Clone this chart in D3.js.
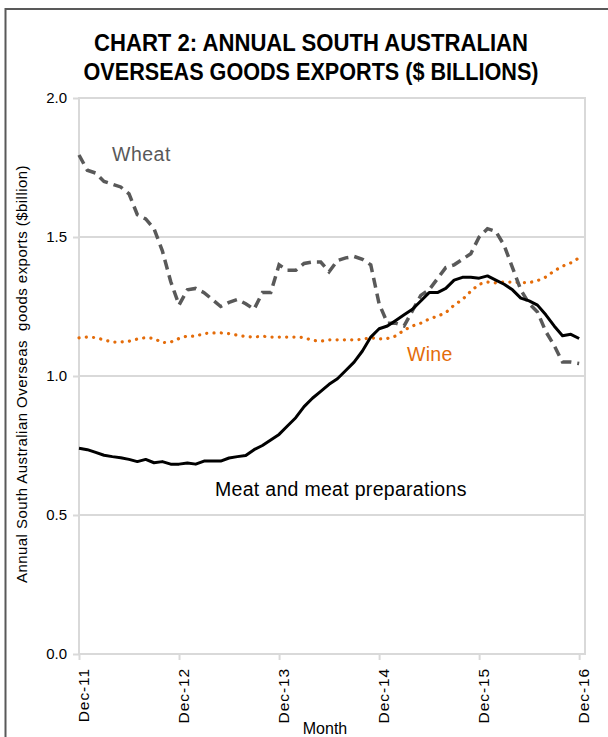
<!DOCTYPE html>
<html><head><meta charset="utf-8">
<script src="https://cdn.jsdelivr.net/npm/d3@7"></script>
<style>
body{margin:0;background:#fff}
svg{display:block}
text{font-family:"Liberation Sans",Arial,sans-serif}
</style>
</head><body>
<svg id="c" width="608" height="737"></svg>
<script>
// Monthly values Dec-11 .. Dec-16 ($ billion)
const wheat=[1.795,1.74,1.73,1.70,1.69,1.68,1.655,1.58,1.565,1.53,1.45,1.34,1.255,1.31,1.315,1.30,1.275,1.25,1.265,1.275,1.26,1.24,1.30,1.30,1.40,1.38,1.38,1.405,1.41,1.41,1.375,1.415,1.425,1.43,1.42,1.40,1.26,1.19,1.19,1.18,1.235,1.29,1.31,1.35,1.39,1.40,1.42,1.44,1.50,1.53,1.52,1.47,1.39,1.31,1.26,1.23,1.16,1.11,1.05,1.05,1.045];
const wine=[1.137,1.14,1.138,1.13,1.122,1.122,1.125,1.133,1.138,1.135,1.12,1.122,1.135,1.144,1.143,1.153,1.155,1.155,1.152,1.147,1.142,1.14,1.143,1.14,1.14,1.14,1.14,1.138,1.128,1.125,1.13,1.13,1.13,1.13,1.132,1.138,1.133,1.135,1.144,1.165,1.18,1.19,1.205,1.215,1.228,1.255,1.275,1.305,1.33,1.338,1.335,1.338,1.338,1.336,1.336,1.343,1.356,1.378,1.395,1.407,1.425];
const meat=[0.74,0.735,0.725,0.715,0.71,0.706,0.70,0.692,0.70,0.688,0.692,0.683,0.683,0.687,0.683,0.694,0.694,0.694,0.705,0.71,0.714,0.735,0.75,0.77,0.79,0.82,0.85,0.89,0.92,0.945,0.97,0.99,1.02,1.05,1.09,1.14,1.17,1.18,1.20,1.22,1.24,1.27,1.30,1.30,1.315,1.345,1.355,1.355,1.352,1.36,1.345,1.33,1.31,1.28,1.27,1.255,1.22,1.18,1.145,1.15,1.135];
const xTickIdx=[0,12,24,36,48,60];
const xTickLabels=["Dec-11","Dec-12","Dec-13","Dec-14","Dec-15","Dec-16"];
const yTicks=[0,0.5,1.0,1.5,2.0];
const titleLines=["CHART 2: ANNUAL SOUTH AUSTRALIAN","OVERSEAS GOODS EXPORTS ($ BILLIONS)"];
const titleWidths=[434,455];

const svg=d3.select("#c");
const L=79,R=585,T=98,B=654;
const x=d3.scaleLinear().domain([0,60.7]).range([L,R]);
const y=d3.scaleLinear().domain([0,2]).range([B,T]);
const grid="#d9d9d9";

// outer border
svg.append("rect").attr("x",5.5).attr("y",9).attr("width",640).attr("height",760)
  .attr("fill","none").attr("stroke","#595959").attr("stroke-width",2);

// title
svg.append("g").selectAll("text").data(titleLines).join("text")
  .attr("x",311).attr("y",(d,i)=>51+i*29)
  .attr("text-anchor","middle").attr("font-weight","bold").attr("font-size",24)
  .attr("textLength",(d,i)=>titleWidths[i]).attr("lengthAdjust","spacingAndGlyphs")
  .attr("fill","#000").text(d=>d);

// gridlines
svg.append("g").selectAll("line").data(yTicks).join("line")
  .attr("x1",L).attr("x2",R).attr("y1",d=>y(d)).attr("y2",d=>y(d))
  .attr("stroke",grid).attr("stroke-width",2);
// right frame
svg.append("line").attr("x1",R).attr("x2",R).attr("y1",T-1).attr("y2",B+1)
  .attr("stroke",grid).attr("stroke-width",2);

// y axis
const ya=svg.append("g").attr("transform",`translate(${L},0)`)
  .call(d3.axisLeft(y).tickValues(yTicks).tickSize(6).tickPadding(6).tickFormat(d3.format(".1f")));
ya.select(".domain").attr("stroke",grid).attr("stroke-width",2).attr("d",`M0,${T-1}V${B+1}`);
ya.selectAll(".tick line").attr("stroke",grid).attr("stroke-width",2);
ya.selectAll(".tick text").attr("font-size",15).attr("fill","#000").attr("font-family","Liberation Sans, Arial, sans-serif");

// x axis
const xa=svg.append("g").attr("transform",`translate(0,${B})`)
  .call(d3.axisBottom(x).tickValues(xTickIdx).tickSize(6).tickFormat((d,i)=>xTickLabels[i]));
xa.select(".domain").remove();
xa.selectAll(".tick line").attr("stroke",grid).attr("stroke-width",2);
xa.selectAll(".tick text").attr("font-size",15.5).attr("fill","#000")
  .attr("font-family","Liberation Sans, Arial, sans-serif")
  .attr("letter-spacing",0.9)
  .attr("text-anchor","end").attr("dy",null).attr("y",null)
  .attr("transform","translate(9,14) rotate(-90)");

// axis titles
svg.append("text").attr("transform","translate(27,374) rotate(-90)")
  .attr("text-anchor","middle").attr("font-size",15).attr("letter-spacing",0.45).attr("fill","#000")
  .style("white-space","pre")
  .text("Annual South Australian Overseas  goods exports ($billion)");
svg.append("text").attr("x",325).attr("y",734).attr("text-anchor","middle")
  .attr("font-size",16).attr("fill","#000").text("Month");

// lines
const line=d3.line().x((d,i)=>x(i)).y(d=>y(d));
svg.append("path").datum(wine).attr("d",line).attr("fill","none")
  .attr("stroke","#E46C0A").attr("stroke-width",3.2).attr("stroke-linecap","round")
  .attr("stroke-dasharray","0.1 7.2");
svg.append("path").datum(wheat).attr("d",line).attr("fill","none")
  .attr("stroke","#595959").attr("stroke-width",3.5).attr("stroke-dasharray","10 6");
svg.append("path").datum(meat).attr("d",line).attr("fill","none")
  .attr("stroke","#000").attr("stroke-width",3).attr("stroke-linejoin","round");

// series labels
svg.append("text").attr("x",112).attr("y",161).attr("font-size",19.5).attr("letter-spacing",0.5).attr("fill","#595959").text("Wheat");
svg.append("text").attr("x",407).attr("y",361).attr("font-size",19.5).attr("letter-spacing",0.3).attr("fill","#E46C0A").text("Wine");
svg.append("text").attr("x",215).attr("y",496).attr("font-size",19.5).attr("letter-spacing",0.3).attr("fill","#000").text("Meat and meat preparations");
</script>
</body></html>
